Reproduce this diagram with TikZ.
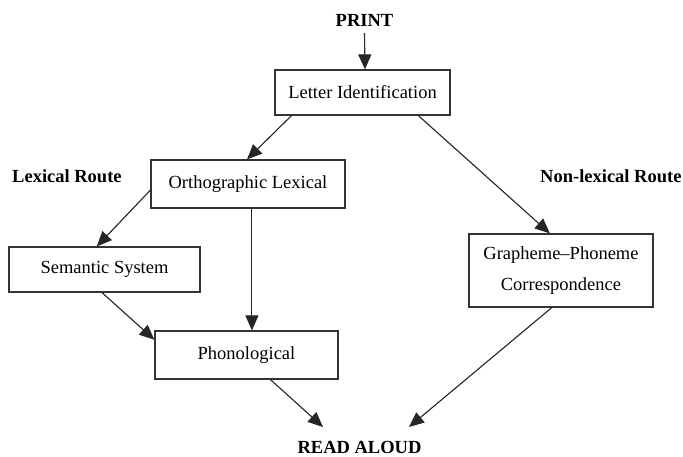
\documentclass[tikz,border=0pt]{standalone}
\usepackage{fontspec}
\setmainfont{Liberation Serif}
\usetikzlibrary{arrows.meta,calc}
\begin{document}
\begin{tikzpicture}[x=1pt,y=-1pt,
  box/.style={draw=black!80,line width=1.2pt,inner sep=0pt,align=center,
    font=\fontsize{18.5}{31}\selectfont},
  lbl/.style={font=\fontsize{18.5}{22}\selectfont\bfseries,inner sep=0pt},
  arr/.style={-{Triangle[length=15pt,width=13pt]},line width=1.1pt,draw=black!85,fill=black!85}]
\useasboundingbox[fill=white] (0,0) rectangle (683,456);
\node[lbl,anchor=base] (print) at (364.5,26) {PRINT};
\node[box,minimum width=175pt,minimum height=45pt] (letter) at (362.5,92.5) {Letter Identification};
\node[box,minimum width=194pt,minimum height=48pt] (ortho) at (248,184) {Orthographic Lexical};
\node[box,minimum width=191pt,minimum height=45pt] (sem) at (104.5,269.5) {Semantic System};
\node[box,minimum width=183pt,minimum height=48pt] (phono) at (246.5,355) {Phonological};
\node[box,minimum width=184pt,minimum height=73pt] (graph) at (561,270.5) {Grapheme--Phoneme\\Correspondence};
\node[lbl,anchor=base west] (lex) at (12,182) {Lexical Route};
\node[lbl,anchor=base west] (nonlex) at (540,182) {Non-lexical Route};
\node[lbl,anchor=base] (read) at (359.5,453) {READ ALOUD};
\coordinate (r1) at (323,427);
\coordinate (r2) at (409,427);
\draw[arr] ([yshift=-7pt]print.south) -- ([xshift=2.5pt]letter.north);
\draw[arr] ($(letter.south west)!0.097!(letter.south east)$) -- ($(ortho.north west)!0.495!(ortho.north east)$);
\draw[arr] ($(letter.south west)!0.817!(letter.south east)$) -- ($(graph.north west)!0.44!(graph.north east)$);
\draw[arr] ($(ortho.north west)!0.625!(ortho.south west)$) -- ($(sem.north west)!0.46!(sem.north east)$);
\draw[arr] ($(ortho.south west)!0.52!(ortho.south east)$) coordinate (o1) -- (o1 |- phono.north);
\draw[arr] ($(sem.south west)!0.487!(sem.south east)$) -- ($(phono.north west)!0.19!(phono.south west)$);
\draw[arr] ($(phono.south west)!0.63!(phono.south east)$) -- (r1);
\draw[arr] ($(graph.south west)!0.45!(graph.south east)$) -- (r2);
\end{tikzpicture}
\end{document}
